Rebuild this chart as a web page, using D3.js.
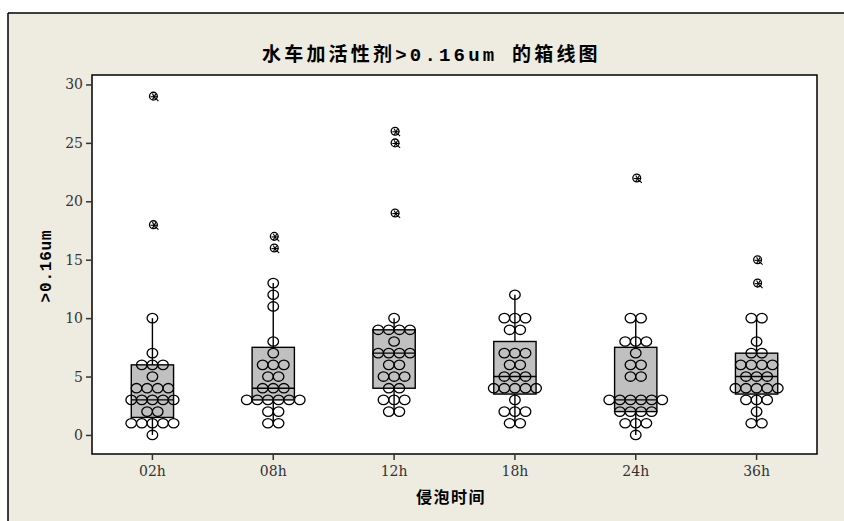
<!DOCTYPE html>
<html>
<head>
<meta charset="utf-8">
<script src="https://cdn.jsdelivr.net/npm/d3@7"></script>
<style>
  html, body { margin: 0; padding: 0; background: #ffffff; }
  svg { display: block; }
</style>
</head>
<body>
<svg id="chart" width="844" height="521"></svg>
<script>
// Soaking time groups and the >0.16um readings in each group
const categories = ["02h", "08h", "12h", "18h", "24h", "36h"];
const values02h = [0, 1, 1, 1, 1, 1, 2, 2, 3, 3, 3, 3, 3, 4, 4, 4, 4, 5, 6, 6, 6, 7, 10, 18, 29];
const values08h = [1, 1, 2, 2, 3, 3, 3, 3, 3, 3, 4, 4, 4, 5, 5, 6, 6, 6, 7, 8, 11, 12, 13, 16, 17];
const values12h = [2, 2, 3, 3, 3, 4, 4, 5, 5, 5, 6, 6, 7, 7, 7, 7, 8, 9, 9, 9, 9, 10, 19, 25, 26];
const values18h = [1, 1, 2, 2, 2, 3, 4, 4, 4, 4, 4, 5, 5, 5, 6, 6, 7, 7, 7, 9, 9, 10, 10, 10, 12];
const values24h = [0, 1, 1, 1, 2, 2, 2, 2, 3, 3, 3, 3, 3, 3, 5, 5, 6, 6, 7, 8, 8, 8, 10, 10, 22];
const values36h = [1, 1, 2, 3, 3, 3, 4, 4, 4, 4, 4, 5, 5, 5, 6, 6, 6, 6, 7, 7, 8, 10, 10, 13, 15];
const seriesValues = [values02h, values08h, values12h, values18h, values24h, values36h];
const yTicks = [0, 5, 10, 15, 20, 25, 30];

const titleText = "水车加活性剂>0.16um 的箱线图";
const xTitle = "侵泡时间";
const yTitle = ">0.16um";

const svg = d3.select("#chart");
const W = 844, H = 521;
const plot = { left: 92, right: 817, top: 75, bottom: 454 };

// Panel background with top and left frame edges
svg.append("rect").attr("x", 8).attr("y", 13).attr("width", W).attr("height", H)
  .attr("fill", "#eeebe1");
svg.append("line").attr("x1", 8).attr("x2", W).attr("y1", 13).attr("y2", 13)
  .attr("stroke", "#000").attr("stroke-width", 1.5);
svg.append("line").attr("x1", 8).attr("x2", 8).attr("y1", 13).attr("y2", H)
  .attr("stroke", "#000").attr("stroke-width", 1.5);

// Data region
svg.append("rect")
  .attr("x", plot.left).attr("y", plot.top)
  .attr("width", plot.right - plot.left).attr("height", plot.bottom - plot.top)
  .attr("fill", "#ffffff");

const x = d3.scaleBand().domain(categories).range([plot.left, plot.right]);
const y = d3.scaleLinear().domain([-1.63, 30.81]).range([plot.bottom, plot.top]);

// Quartiles with the (n+1)p interpolation rule
function quart(sorted, p) {
  const n = sorted.length;
  const pos = (n + 1) * p;
  const lo = Math.floor(pos), frac = pos - lo;
  const a = sorted[Math.max(0, Math.min(n - 1, lo - 1))];
  const b = sorted[Math.max(0, Math.min(n - 1, lo))];
  return a + frac * (b - a);
}

const boxW = x.bandwidth() * 0.35;
const dotDx = 10.6;
const g = svg.append("g");

categories.forEach((cat, i) => {
  const vals = seriesValues[i].slice().sort((a, b) => a - b);
  const q1 = quart(vals, 0.25), med = quart(vals, 0.5), q3 = quart(vals, 0.75);
  const iqr = q3 - q1;
  const lowFence = q1 - 1.5 * iqr, highFence = q3 + 1.5 * iqr;
  const inside = vals.filter(v => v >= lowFence && v <= highFence);
  const outliers = vals.filter(v => v < lowFence || v > highFence);
  const wLo = d3.min(inside), wHi = d3.max(inside);
  const cx = x(cat) + x.bandwidth() / 2;

  // whiskers
  g.append("line").attr("x1", cx).attr("x2", cx).attr("y1", y(q3)).attr("y2", y(wHi))
    .attr("stroke", "#000").attr("stroke-width", 1.4);
  g.append("line").attr("x1", cx).attr("x2", cx).attr("y1", y(q1)).attr("y2", y(wLo))
    .attr("stroke", "#000").attr("stroke-width", 1.4);

  // box
  g.append("rect")
    .attr("x", cx - boxW / 2).attr("y", y(q3))
    .attr("width", boxW).attr("height", y(q1) - y(q3))
    .attr("fill", "#c0c0c0").attr("stroke", "#000").attr("stroke-width", 1.4);
  g.append("line").attr("x1", cx - boxW / 2).attr("x2", cx + boxW / 2)
    .attr("y1", y(med)).attr("y2", y(med))
    .attr("stroke", "#000").attr("stroke-width", 1.4);

  // individual observations stacked side by side for equal values
  const rows = d3.groups(inside, v => v);
  rows.forEach(([v, arr]) => {
    arr.forEach((_, k) => {
      g.append("ellipse")
        .attr("cx", cx + (k - (arr.length - 1) / 2) * dotDx)
        .attr("cy", y(v))
        .attr("rx", 5.3).attr("ry", 4.7)
        .attr("fill", "none").attr("stroke", "#000").attr("stroke-width", 1.3);
    });
  });

  // outliers: small circle overlaid by an asterisk
  outliers.forEach(v => {
    const ox = cx + 1, oy = y(v);
    g.append("circle").attr("cx", ox).attr("cy", oy).attr("r", 3.9)
      .attr("fill", "none").attr("stroke", "#000").attr("stroke-width", 1.3);
    [0, 60, 120].forEach(a => {
      const r = a * Math.PI / 180, L = 3.6;
      g.append("line")
        .attr("x1", ox + 0.8 - L * Math.cos(r)).attr("y1", oy + 0.6 - L * Math.sin(r))
        .attr("x2", ox + 0.8 + L * Math.cos(r)).attr("y2", oy + 0.6 + L * Math.sin(r))
        .attr("stroke", "#000").attr("stroke-width", 1.1);
    });
    g.append("line").attr("x1", ox + 2.5).attr("y1", oy + 2.5).attr("x2", ox + 5).attr("y2", oy + 5)
      .attr("stroke", "#000").attr("stroke-width", 1.1);
  });
});

// frame of the data region
svg.append("rect")
  .attr("x", plot.left).attr("y", plot.top)
  .attr("width", plot.right - plot.left).attr("height", plot.bottom - plot.top)
  .attr("fill", "none").attr("stroke", "#000").attr("stroke-width", 1.5);

// Axes
const tickFont = "'DejaVu Serif', 'Liberation Serif', serif";
const yAxis = svg.append("g").attr("transform", `translate(${plot.left},0)`)
  .call(d3.axisLeft(y).tickValues(yTicks).tickSize(6).tickPadding(3));
yAxis.select(".domain").remove();
yAxis.selectAll(".tick line").attr("stroke", "#333").attr("stroke-width", 1.5);
yAxis.selectAll(".tick text").attr("font-family", tickFont).attr("font-size", 14).attr("fill", "#333");

const xAxis = svg.append("g").attr("transform", `translate(0,${plot.bottom})`)
  .call(d3.axisBottom(x).tickSize(6).tickPadding(6));
xAxis.select(".domain").remove();
xAxis.selectAll(".tick line").attr("stroke", "#333").attr("stroke-width", 1.5);
xAxis.selectAll(".tick text").attr("font-family", tickFont).attr("font-size", 14).attr("fill", "#333");

// Titles
const titleFont = "'Liberation Mono', 'Noto Sans CJK SC', monospace";
svg.append("text").attr("x", 262).attr("y", 61).attr("text-anchor", "start")
  .attr("font-family", titleFont).attr("font-weight", "bold").attr("font-size", 19)
  .attr("letter-spacing", 3.2)
  .attr("fill", "#000").text(titleText);

svg.append("text").attr("x", 416).attr("y", 503).attr("text-anchor", "start")
  .attr("font-family", "'Noto Sans CJK SC', sans-serif").attr("font-weight", "bold").attr("font-size", 16)
  .attr("letter-spacing", 1.5)
  .attr("fill", "#000").text(xTitle);

svg.append("text").attr("transform", "translate(51,266) rotate(-90)").attr("text-anchor", "middle")
  .attr("font-family", titleFont).attr("font-weight", "bold").attr("font-size", 16)
  .attr("letter-spacing", 0.8)
  .attr("fill", "#000").text(yTitle);
</script>
</body>
</html>
